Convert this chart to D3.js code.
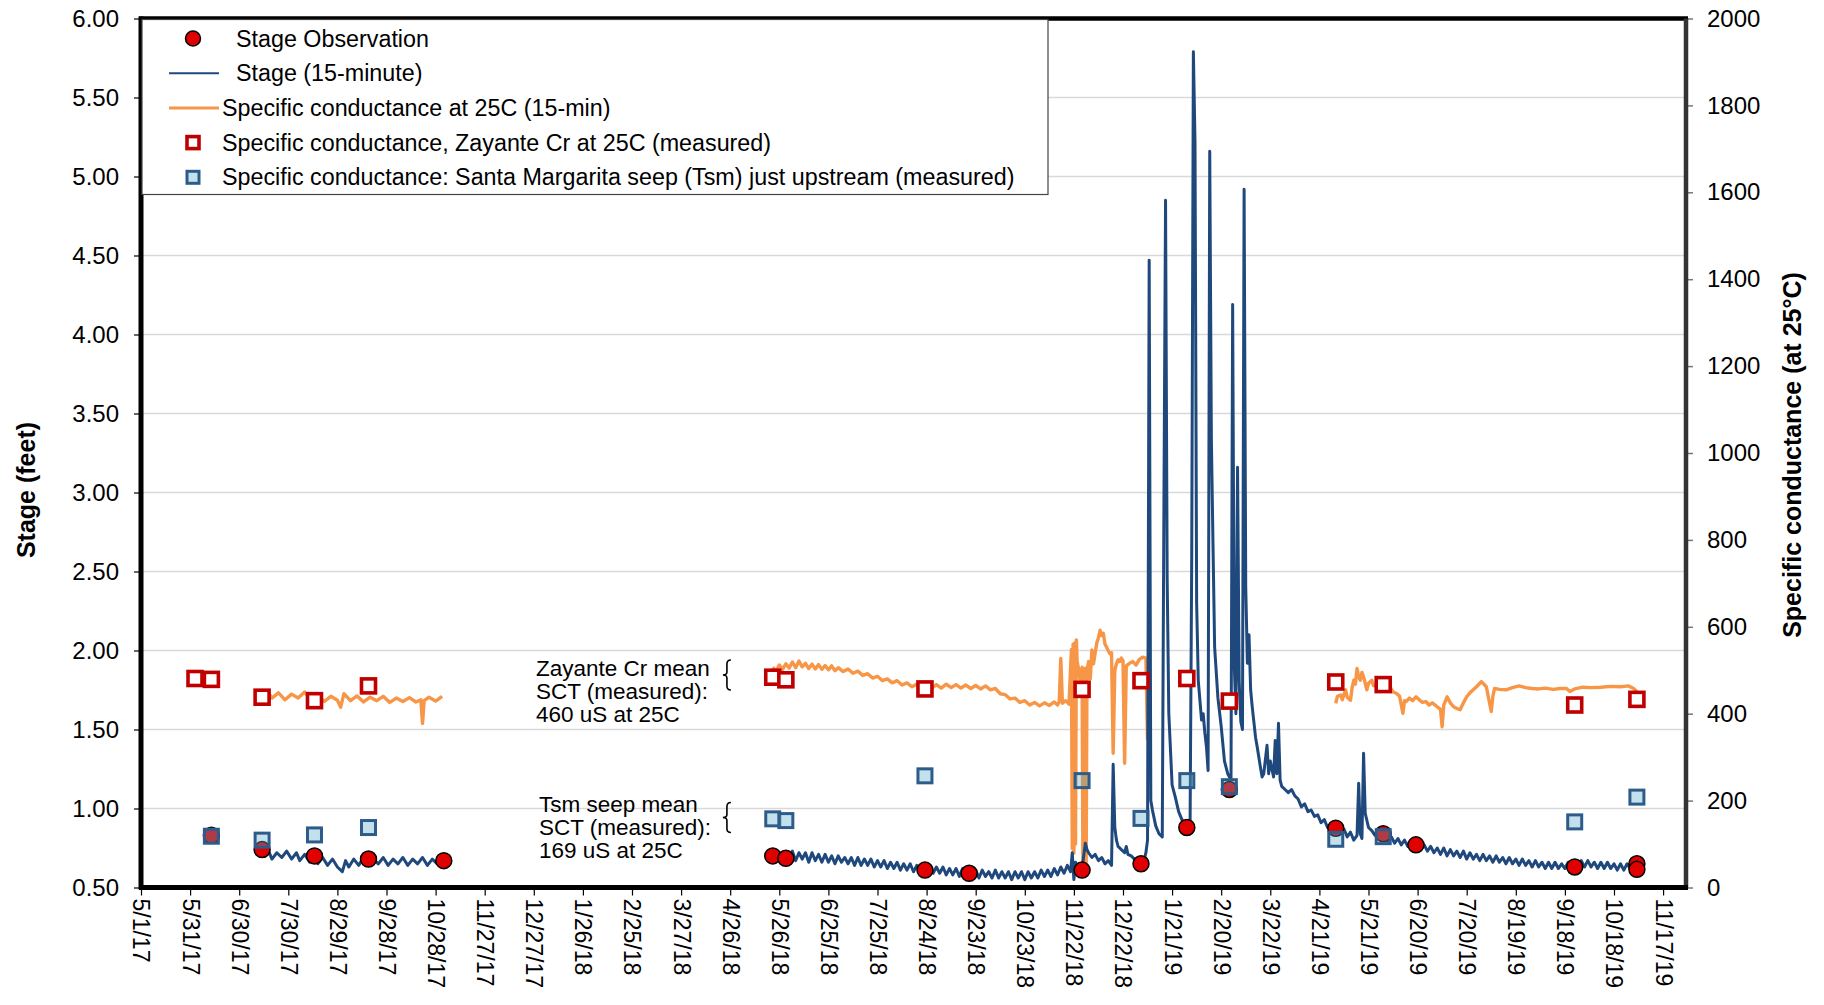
<!DOCTYPE html>
<html>
<head>
<meta charset="utf-8">
<script src="https://cdn.jsdelivr.net/npm/d3@7"></script>
<style>
  body { margin: 0; background: #fff; }
  text { font-family: Arial, "Liberation Sans", sans-serif; fill: #000; }
</style>
</head>
<body>
<div id="chart"></div>
<script>
// ---------- data ----------
const xTickLabels = ["5/1/17","5/31/17","6/30/17","7/30/17","8/29/17","9/28/17","10/28/17","11/27/17","12/27/17","1/26/18","2/25/18","3/27/18","4/26/18","5/26/18","6/25/18","7/25/18","8/24/18","9/23/18","10/23/18","11/22/18","12/22/18","1/21/19","2/20/19","3/22/19","4/21/19","5/21/19","6/20/19","7/20/19","8/19/19","9/18/19","10/18/19","11/17/19"];
const stageTicks = [0.5, 1.0, 1.5, 2.0, 2.5, 3.0, 3.5, 4.0, 4.5, 5.0, 5.5, 6.0];
const condTicks = [0, 200, 400, 600, 800, 1000, 1200, 1400, 1600, 1800, 2000];

// stage observations (ft)
const stageObs = [["6/13/17",0.83],["7/14/17",0.74],["8/15/17",0.70],["9/17/17",0.68],["11/2/17",0.67],
  ["5/22/18",0.70],["5/30/18",0.685],["8/23/18",0.61],["9/19/18",0.59],["11/27/18",0.61],
  ["1/2/19",0.65],["1/30/19",0.88],["2/25/19",1.12],["5/1/19",0.875],["5/30/19",0.84],
  ["6/19/19",0.77],["9/24/19",0.63],["11/1/19",0.65],["11/1/19",0.615]];

// specific conductance, Zayante Cr (measured)
const condZayante = [["6/3/17",481],["6/13/17",479],["7/14/17",438],["8/15/17",430],["9/17/17",464],
  ["5/22/18",484],["5/30/18",478],["8/23/18",457],["11/27/18",456],["1/2/19",476],["1/30/19",481],
  ["2/25/19",429],["5/1/19",473],["5/30/19",467],["9/24/19",420],["11/1/19",433]];

// specific conductance, Santa Margarita seep (measured)
const condTsm = [["6/13/17",118],["7/14/17",109],["8/15/17",121],["9/17/17",138],["5/22/18",158],
  ["5/30/18",154],["8/23/18",257],["11/27/18",246],["1/2/19",159],["1/30/19",246],["2/25/19",232],
  ["5/1/19",111],["5/30/19",117],["9/24/19",151],["11/1/19",208]];

// stage, 15-minute record (ft)
const stage2017 = [["7/14/17",0.74],["7/16/17",0.70],["7/18/17",0.73],["7/20/17",0.68],["7/23/17",0.72],["7/26/17",0.69],["7/29/17",0.73],["8/1/17",0.68],["8/4/17",0.72],["8/6/17",0.67],["8/9/17",0.71],["8/12/17",0.66],["8/15/17",0.70],["8/17/17",0.65],["8/20/17",0.69],["8/23/17",0.64],["8/26/17",0.68],["8/29/17",0.63],["9/1/17",0.60],["9/3/17",0.67],["9/5/17",0.63],["9/8/17",0.68],["9/11/17",0.64],["9/14/17",0.69],["9/17/17",0.64],["9/20/17",0.68],["9/23/17",0.65],["9/26/17",0.69],["9/29/17",0.64],["10/2/17",0.68],["10/5/17",0.65],["10/8/17",0.69],["10/11/17",0.64],["10/14/17",0.68],["10/17/17",0.65],["10/20/17",0.69],["10/23/17",0.64],["10/26/17",0.68],["10/29/17",0.65],["11/2/17",0.67]];

const stage2018 = [["5/22/18",0.73],["5/24/18",0.68],["5/26/18",0.72],["5/28/18",0.67],["5/30/18",0.72],["6/1/18",0.68],["6/3/18",0.73],["6/5/18",0.67],["6/7/18",0.72],["6/9/18",0.68],["6/11/18",0.72],["6/13/18",0.66],["6/15/18",0.72],["6/17/18",0.67],["6/19/18",0.71],["6/21/18",0.66],["6/23/18",0.71],["6/25/18",0.66],["6/27/18",0.70],["6/29/18",0.65],["7/1/18",0.70],["7/3/18",0.66],["7/5/18",0.69],["7/7/18",0.65],["7/9/18",0.69],["7/11/18",0.64],["7/13/18",0.69],["7/15/18",0.64],["7/17/18",0.68],["7/19/18",0.64],["7/21/18",0.68],["7/23/18",0.63],["7/25/18",0.67],["7/27/18",0.63],["7/29/18",0.67],["7/31/18",0.62],["8/2/18",0.66],["8/4/18",0.62],["8/6/18",0.66],["8/8/18",0.61],["8/10/18",0.65],["8/12/18",0.61],["8/14/18",0.65],["8/16/18",0.60],["8/18/18",0.64],["8/20/18",0.60],["8/22/18",0.64],["8/24/18",0.59],["8/26/18",0.64],["8/28/18",0.59],["8/30/18",0.63],["9/1/18",0.59],["9/3/18",0.63],["9/5/18",0.58],["9/7/18",0.62],["9/9/18",0.58],["9/11/18",0.62],["9/13/18",0.57],["9/15/18",0.62],["9/17/18",0.57],["9/19/18",0.61],["9/21/18",0.57],["9/23/18",0.61],["9/25/18",0.56],["9/27/18",0.61],["9/29/18",0.57],["10/1/18",0.60],["10/3/18",0.56],["10/5/18",0.61],["10/7/18",0.56],["10/9/18",0.60],["10/11/18",0.56],["10/13/18",0.60],["10/15/18",0.55],["10/17/18",0.60],["10/19/18",0.56],["10/21/18",0.60],["10/23/18",0.55],["10/25/18",0.60],["10/27/18",0.56],["10/29/18",0.60],["10/31/18",0.56],["11/2/18",0.61],["11/4/18",0.57],["11/6/18",0.61],["11/8/18",0.57],["11/10/18",0.62],["11/12/18",0.58],["11/14/18",0.63],["11/16/18",0.59],["11/18/18",0.64],["11/20/18",0.60],
  ["11/21/18",0.72],["11/22/18",0.55],["11/23/18",0.66],["11/24/18",0.62],["11/25/18",0.65],["11/26/18",0.61],["11/27/18",0.62],["11/28/18",0.70],["11/29/18",0.78],["11/30/18",0.74],["12/1/18",0.72],["12/3/18",0.69],["12/5/18",0.71],["12/7/18",0.67],["12/9/18",0.69],["12/11/18",0.65],["12/13/18",0.67],["12/15/18",0.64],["12/16/18",1.28],["12/17/18",0.88],["12/18/18",0.80],["12/19/18",0.76],["12/21/18",0.74],["12/23/18",0.72],["12/24/18",0.76],["12/25/18",0.71],["12/27/18",0.70],["12/29/18",0.68],["12/31/18",0.67],
  ["1/2/19",0.66],["1/4/19",0.68],["1/5/19",0.72],["1/6/19",0.80],["1/7/19",4.47],["1/8/19",1.05],["1/9/19",0.99],["1/11/19",0.89],["1/13/19",0.84],["1/15/19",0.82],["1/16/19",2.90],["1/17/19",4.85],["1/18/19",2.45],["1/19/19",1.60],["1/21/19",1.15],["1/23/19",1.07],["1/25/19",0.98],["1/27/19",0.93],["1/29/19",0.89],["1/31/19",0.87],["2/1/19",0.90],["2/2/19",2.60],["2/3/19",5.79],["2/4/19",5.22],["2/5/19",2.30],["2/6/19",1.81],["2/8/19",1.56],["2/9/19",1.60],["2/10/19",1.48],["2/11/19",1.39],["2/12/19",1.24],["2/13/19",5.16],["2/14/19",3.34],["2/15/19",2.67],["2/16/19",2.02],["2/18/19",1.70],["2/20/19",1.52],["2/22/19",1.30],["2/24/19",1.22],["2/26/19",1.18],["2/27/19",4.19],["2/28/19",1.90],["3/1/19",1.60],["3/2/19",3.16],["3/3/19",1.80],["3/4/19",1.55],["3/5/19",1.50],["3/6/19",4.92],["3/7/19",2.40],["3/8/19",1.92],["3/9/19",2.10],["3/10/19",1.75],["3/11/19",1.64],["3/13/19",1.45],["3/14/19",1.39],["3/16/19",1.26],["3/17/19",1.20],["3/18/19",1.22],["3/20/19",1.40],["3/21/19",1.22],["3/22/19",1.30],["3/24/19",1.20],["3/25/19",1.43],["3/26/19",1.22],["3/27/19",1.54],["3/28/19",1.18],["3/29/19",1.14],
  ["3/31/19",1.12],["4/2/19",1.10],["4/4/19",1.12],["4/6/19",1.08],["4/8/19",1.06],["4/10/19",1.01],["4/12/19",1.03],["4/14/19",0.98],["4/16/19",0.99],["4/18/19",0.95],["4/20/19",0.96],["4/22/19",0.91],["4/24/19",0.93],["4/26/19",0.88],["4/28/19",0.90],["4/30/19",0.86],["5/2/19",0.88],["5/4/19",0.84],["5/6/19",0.87],["5/8/19",0.82],["5/10/19",0.85],["5/12/19",0.80],["5/14/19",0.83],["5/15/19",1.16],["5/16/19",0.84],["5/17/19",0.81],["5/18/19",1.35],["5/19/19",0.97],["5/21/19",0.88],["5/23/19",0.86],["5/25/19",0.83],["5/27/19",0.85],["5/29/19",0.81],["5/31/19",0.84],["6/2/19",0.79],["6/4/19",0.82],["6/6/19",0.78],["6/8/19",0.81],["6/10/19",0.77],["6/12/19",0.80],["6/14/19",0.76],["6/16/19",0.79],["6/18/19",0.75],["6/20/19",0.78],["6/22/19",0.74],["6/24/19",0.77],["6/26/19",0.73],["6/28/19",0.76],["6/30/19",0.72],["7/2/19",0.75],["7/4/19",0.71],["7/6/19",0.75],["7/8/19",0.70],["7/10/19",0.74],["7/12/19",0.70],["7/14/19",0.73],["7/16/19",0.69],["7/18/19",0.73],["7/20/19",0.68],["7/22/19",0.72],["7/24/19",0.68],["7/26/19",0.71],["7/28/19",0.67],["7/30/19",0.71],["8/1/19",0.67],["8/3/19",0.70],["8/5/19",0.66],["8/7/19",0.70],["8/9/19",0.66],["8/11/19",0.69],["8/13/19",0.65],["8/15/19",0.69],["8/17/19",0.65],["8/19/19",0.68],["8/21/19",0.64],["8/23/19",0.68],["8/25/19",0.64],["8/27/19",0.67],["8/29/19",0.63],["8/31/19",0.67],["9/2/19",0.63],["9/4/19",0.66],["9/6/19",0.62],["9/8/19",0.66],["9/10/19",0.62],["9/12/19",0.66],["9/14/19",0.62],["9/16/19",0.65],["9/18/19",0.62],["9/20/19",0.66],["9/22/19",0.62],["9/24/19",0.66],["9/26/19",0.63],["9/28/19",0.67],["9/30/19",0.63],["10/2/19",0.67],["10/4/19",0.63],["10/6/19",0.66],["10/8/19",0.62],["10/10/19",0.66],["10/12/19",0.62],["10/14/19",0.66],["10/16/19",0.62],["10/18/19",0.65],["10/20/19",0.61],["10/22/19",0.65],["10/24/19",0.61],["10/26/19",0.65],["10/28/19",0.62],["10/30/19",0.68],["11/1/19",0.64]];

// specific conductance, 15-minute record (uS/cm at 25C)
const cond2017 = [["7/14/17",440],["7/17/17",452],["7/20/17",436],["7/24/17",448],["7/28/17",432],["8/1/17",445],["8/5/17",436],["8/9/17",450],["8/13/17",430],["8/17/17",442],["8/21/17",428],["8/25/17",440],["8/29/17",431],["8/31/17",415],["9/2/17",446],["9/6/17",430],["9/10/17",441],["9/14/17",427],["9/18/17",438],["9/22/17",430],["9/26/17",440],["9/30/17",426],["10/4/17",436],["10/8/17",428],["10/12/17",437],["10/16/17",427],["10/19/17",432],["10/20/17",378],["10/21/17",430],["10/24/17",438],["10/28/17",429],["11/1/17",440]];

const cond2018 = [["5/22/18",507],["5/24/18",498],["5/26/18",512],["5/28/18",502],["5/30/18",515],["6/1/18",505],["6/3/18",519],["6/5/18",506],["6/7/18",521],["6/9/18",508],["6/11/18",516],["6/13/18",504],["6/15/18",514],["6/17/18",503],["6/19/18",513],["6/21/18",502],["6/23/18",511],["6/25/18",501],["6/27/18",510],["6/29/18",499],["7/1/18",506],["7/4/18",497],["7/7/18",503],["7/10/18",493],["7/13/18",498],["7/16/18",488],["7/19/18",492],["7/22/18",482],["7/25/18",486],["7/28/18",476],["7/31/18",480],["8/3/18",471],["8/6/18",476],["8/9/18",466],["8/12/18",471],["8/15/18",462],["8/18/18",468],["8/21/18",460],["8/24/18",466],["8/27/18",458],["8/30/18",467],["9/2/18",459],["9/5/18",468],["9/8/18",460],["9/11/18",467],["9/14/18",459],["9/17/18",466],["9/20/18",458],["9/23/18",465],["9/26/18",457],["9/29/18",464],["10/2/18",455],["10/5/18",458],["10/8/18",446],["10/11/18",444],["10/14/18",434],["10/17/18",436],["10/20/18",426],["10/23/18",430],["10/26/18",420],["10/29/18",426],["11/1/18",418],["11/4/18",425],["11/7/18",419],["11/10/18",427],["11/12/18",420],["11/13/18",427],["11/14/18",527],["11/15/18",424],["11/17/18",430],["11/19/18",422],
  ["11/20/18 12",548],["11/21/18 00",90],["11/21/18 12",560],["11/22/18 00",79],["11/22/18 12",563],["11/23/18 00",100],["11/23/18 12",570],["11/24/18",520],["11/25/18",500],["11/26/18",470],
  ["11/27/18 00",507],["11/27/18 12",60],["11/28/18 00",500],["11/28/18 12",47],["11/29/18 00",505],["11/29/18 12",55],["11/30/18 00",500],
  ["12/1/18",520],["12/2/18",480],["12/3/18",547],["12/4/18",515],["12/5/18",540],["12/6/18",563],["12/7/18",575],["12/8/18",592],["12/9/18",580],["12/10/18",585],["12/11/18",560],["12/12/18",553],["12/13/18",545],["12/14/18",538],["12/15/18",540],["12/16/18",309],["12/17/18",500],["12/18/18",515],["12/19/18",524],["12/20/18",520],["12/21/18",528],["12/22/18",522],["12/23/18",286],["12/24/18",510],["12/26/18",516],["12/28/18",520],["12/30/18",512],["1/1/19",525],["1/3/19",530],["1/5/19",528],["1/6/19",339]];

const cond2019 = [["5/1/19",424],["5/2/19",440],["5/4/19",443],["5/5/19",432],["5/7/19",455],["5/8/19",438],["5/10/19",431],["5/11/19",460],["5/12/19",477],["5/13/19",468],["5/14/19",504],["5/15/19",485],["5/16/19",477],["5/17/19",495],["5/18/19",485],["5/19/19",470],["5/20/19",455],["5/21/19",470],["5/23/19",477],["5/24/19",465],["5/26/19",462],["5/28/19",470],["5/30/19",458],["6/1/19",465],["6/3/19",462],["6/5/19",450],["6/7/19",447],["6/9/19",440],["6/11/19",401],["6/12/19",430],["6/13/19",428],["6/15/19",436],["6/17/19",430],["6/19/19",439],["6/21/19",432],["6/23/19",426],["6/25/19",428],["6/27/19",420],["6/29/19",425],["7/2/19",416],["7/4/19",410],["7/5/19",370],["7/6/19",420],["7/8/19",439],["7/10/19",425],["7/12/19",416],["7/14/19",412],["7/16/19",409],["7/18/19",425],["7/20/19",439],["7/22/19",448],["7/24/19",455],["7/26/19",462],["7/28/19",470],["7/29/19",474],["7/31/19",466],["8/1/19",462],["8/4/19",405],["8/5/19",440],["8/6/19",458],["8/9/19",456],["8/13/19",455],["8/17/19",460],["8/21/19",464],["8/25/19",460],["8/29/19",458],["9/2/19",457],["9/6/19",459],["9/11/19",456],["9/15/19",458],["9/19/19",458],["9/21/19",451],["9/24/19",457],["9/29/19",461],["10/4/19",460],["10/10/19",461],["10/16/19",463],["10/22/19",462],["10/27/19",464],["10/30/19",458],["11/1/19",451]];

const legendLabels = ["Stage Observation","Stage (15-minute)","Specific conductance at 25C (15-min)","Specific conductance, Zayante Cr at 25C (measured)","Specific conductance: Santa Margarita seep (Tsm) just upstream (measured)"];

// ---------- helpers ----------
const parseDay = d3.timeParse("%m/%d/%y");
const parseHour = d3.timeParse("%m/%d/%y %H");
const toDate = s => s.includes(" ") ? parseHour(s) : parseDay(s);
const dateOf = d => toDate(d[0]);
const valOf = d => d[1];

const W = 1824, H = 1005;
const pLeft = 141, pRight = 1686, pTop = 18.5, pBottom = 887.5;

const svg = d3.select("#chart").append("svg")
  .attr("width", W).attr("height", H)
  .style("background", "#fff");

const x = d3.scaleTime()
  .domain([parseDay("5/1/17"), parseDay("12/1/19")])
  .range([pLeft, pRight]);
const yStage = d3.scaleLinear().domain([0.5, 6]).range([pBottom, pTop]);
const yCond = d3.scaleLinear().domain([0, 2000]).range([pBottom, pTop]);

// gridlines
svg.append("g").selectAll("line")
  .data(stageTicks.slice(1, -1))
  .join("line")
  .attr("x1", pLeft).attr("x2", pRight)
  .attr("y1", d => yStage(d)).attr("y2", d => yStage(d))
  .attr("stroke", "#d9d9d9").attr("stroke-width", 1.5);

// lines
const stageLine = d3.line().x(d => x(dateOf(d))).y(d => yStage(valOf(d)));
const condLine = d3.line().x(d => x(dateOf(d))).y(d => yCond(valOf(d)));

[cond2017, cond2018, cond2019].forEach(series => {
  svg.append("path").datum(series)
    .attr("d", condLine)
    .attr("fill", "none").attr("stroke", "#F79646")
    .attr("stroke-width", 3.4).attr("stroke-linejoin", "round");
});

[stage2017, stage2018].forEach(series => {
  svg.append("path").datum(series)
    .attr("d", stageLine)
    .attr("fill", "none").attr("stroke", "#1F497D")
    .attr("stroke-width", 3).attr("stroke-linejoin", "round");
});

// stage observations
svg.append("g").selectAll("circle")
  .data(stageObs)
  .join("circle")
  .attr("cx", d => x(dateOf(d)))
  .attr("cy", d => yStage(valOf(d)))
  .attr("r", 8)
  .attr("fill", "#E00000").attr("stroke", "#000").attr("stroke-width", 1.5);

// measured conductance squares
svg.append("g").selectAll("rect")
  .data(condZayante)
  .join("rect")
  .attr("x", d => x(dateOf(d)) - 7)
  .attr("y", d => yCond(valOf(d)) - 7)
  .attr("width", 14).attr("height", 14)
  .attr("fill", "#fff").attr("stroke", "#C00000").attr("stroke-width", 3.6);

svg.append("g").selectAll("rect")
  .data(condTsm)
  .join("rect")
  .attr("x", d => x(dateOf(d)) - 7)
  .attr("y", d => yCond(valOf(d)) - 7)
  .attr("width", 14).attr("height", 14)
  .attr("fill", "rgb(80,170,200)").attr("fill-opacity", 0.35)
  .attr("stroke", "#2E5C8A").attr("stroke-width", 3);

// axes
const xTickDates = xTickLabels.map(parseDay);
const xAxis = d3.axisBottom(x)
  .tickValues(xTickDates)
  .tickFormat((d, i) => xTickLabels[i])
  .tickSize(8);
const xAxisGroup = svg.append("g")
  .attr("transform", `translate(0,${pBottom})`)
  .call(xAxis);
xAxisGroup.select(".domain").remove();
xAxisGroup.selectAll(".tick line").attr("stroke", "#000").attr("stroke-width", 1.2);
xAxisGroup.selectAll(".tick text")
  .attr("y", 0).attr("x", 11).attr("dy", "0.35em")
  .attr("transform", "rotate(90)")
  .style("text-anchor", "start")
  .attr("font-size", 23);

const yLeft = d3.axisLeft(yStage)
  .tickValues(stageTicks)
  .tickFormat(d3.format(".2f"))
  .tickSize(7).tickPadding(15);
const yLeftGroup = svg.append("g")
  .attr("transform", `translate(${pLeft},0)`)
  .call(yLeft);
yLeftGroup.select(".domain").remove();
yLeftGroup.selectAll(".tick line").attr("stroke", "#000").attr("stroke-width", 1.2);
yLeftGroup.selectAll(".tick text").attr("font-size", 24);

const yRight = d3.axisRight(yCond)
  .tickValues(condTicks)
  .tickFormat(d3.format("d"))
  .tickSize(7).tickPadding(14);
const yRightGroup = svg.append("g")
  .attr("transform", `translate(${pRight},0)`)
  .call(yRight);
yRightGroup.select(".domain").remove();
yRightGroup.selectAll(".tick line").attr("stroke", "#777").attr("stroke-width", 1.5);
yRightGroup.selectAll(".tick text").attr("font-size", 24);

// plot frame
const frame = svg.append("g");
frame.append("line").attr("x1", pLeft - 2).attr("x2", pRight + 2).attr("y1", pTop).attr("y2", pTop)
  .attr("stroke", "#000").attr("stroke-width", 4.5);
frame.append("line").attr("x1", pRight).attr("x2", pRight).attr("y1", pTop).attr("y2", pBottom)
  .attr("stroke", "#333").attr("stroke-width", 4.5);
frame.append("line").attr("x1", pLeft - 2).attr("x2", pRight + 2).attr("y1", pBottom).attr("y2", pBottom)
  .attr("stroke", "#000").attr("stroke-width", 5);
frame.append("line").attr("x1", pLeft).attr("x2", pLeft).attr("y1", pTop - 2).attr("y2", pBottom + 2)
  .attr("stroke", "#000").attr("stroke-width", 5);

// axis titles
svg.append("text")
  .text("Stage (feet)")
  .attr("transform", `translate(26,${(pTop + pBottom) / 2 + 37}) rotate(-90)`)
  .attr("text-anchor", "middle").attr("dy", "0.35em")
  .attr("font-size", 25).attr("font-weight", "bold");
svg.append("text")
  .text("Specific conductance (at 25°C)")
  .attr("transform", `translate(1792,${(pTop + pBottom) / 2 + 2}) rotate(-90)`)
  .attr("text-anchor", "middle").attr("dy", "0.35em")
  .attr("font-size", 25).attr("font-weight", "bold");

// annotations with braces
const notes = [
  { lines: ["Zayante Cr mean", "SCT (measured):", "460 uS at 25C"], braceStage: 1.845, textStage: 1.839, dx: 191 },
  { lines: ["Tsm seep mean", "SCT (measured):", "169 uS at 25C"], braceStage: 0.943, textStage: 0.978, dx: 188 }
];
const braceX = x(parseDay("4/24/18"));
notes.forEach(n => {
  const cy = yStage(n.braceStage);
  const bx = braceX;
  svg.append("path")
    .attr("d", `M${bx + 4},${cy - 15} Q${bx},${cy - 15} ${bx},${cy - 11} L${bx},${cy - 3} Q${bx},${cy} ${bx - 4},${cy} Q${bx},${cy} ${bx},${cy + 3} L${bx},${cy + 11} Q${bx},${cy + 15} ${bx + 4},${cy + 15}`)
    .attr("fill", "none").attr("stroke", "#000").attr("stroke-width", 1.6);
  const t = svg.append("text")
    .attr("x", bx - n.dx).attr("y", yStage(n.textStage))
    .attr("font-size", 22.5);
  n.lines.forEach((s, i) => {
    t.append("tspan").attr("x", bx - n.dx).attr("dy", i === 0 ? 0 : 23).text(s);
  });
});

// legend
const legend = svg.append("g");
legend.append("rect")
  .attr("x", pLeft + 1).attr("y", pTop + 1)
  .attr("width", 906).attr("height", 175)
  .attr("fill", "#fff").attr("stroke", "#444").attr("stroke-width", 1.2);
const rowY = i => 38.5 + i * 34.7;
const markX = 193;
legend.append("circle").attr("cx", markX).attr("cy", rowY(0)).attr("r", 7.5)
  .attr("fill", "#E00000").attr("stroke", "#000").attr("stroke-width", 1.5);
legend.append("line").attr("x1", 169).attr("x2", 219).attr("y1", rowY(1)).attr("y2", rowY(1))
  .attr("stroke", "#1F497D").attr("stroke-width", 2);
legend.append("line").attr("x1", 169).attr("x2", 219).attr("y1", rowY(2)).attr("y2", rowY(2))
  .attr("stroke", "#F79646").attr("stroke-width", 3);
legend.append("rect").attr("x", markX - 6).attr("y", rowY(3) - 6).attr("width", 12).attr("height", 12)
  .attr("fill", "#fff").attr("stroke", "#C00000").attr("stroke-width", 3.6);
legend.append("rect").attr("x", markX - 6).attr("y", rowY(4) - 6).attr("width", 12).attr("height", 12)
  .attr("fill", "rgb(80,170,200)").attr("fill-opacity", 0.35)
  .attr("stroke", "#2E5C8A").attr("stroke-width", 3);
legend.selectAll("text.lab")
  .data(legendLabels)
  .join("text")
  .attr("class", "lab")
  .attr("x", (d, i) => i < 2 ? 236 : 222)
  .attr("y", (d, i) => rowY(i))
  .attr("dy", "0.35em")
  .attr("font-size", 23.3)
  .text(d => d);
</script>
</body>
</html>
